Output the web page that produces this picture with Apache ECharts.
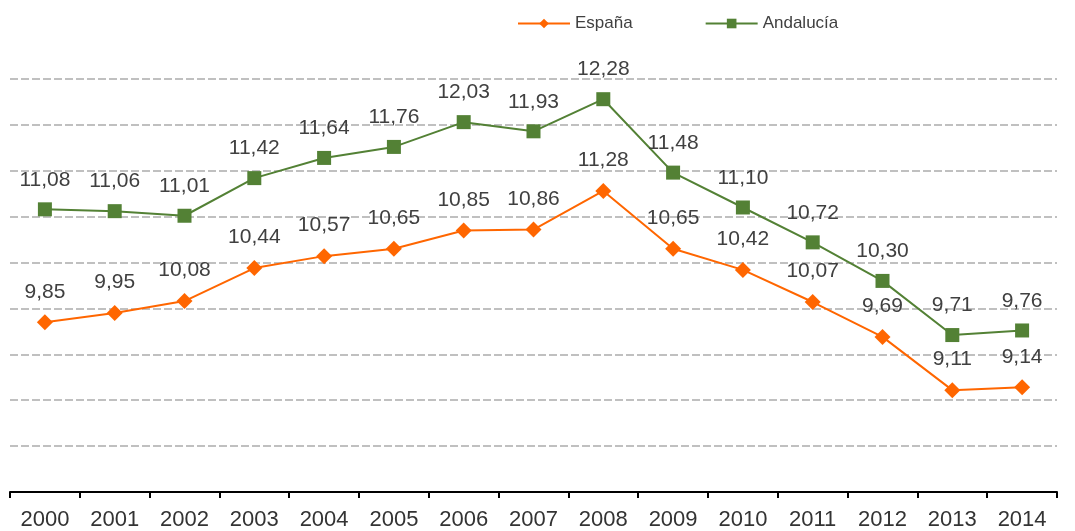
<!DOCTYPE html>
<html>
<head>
<meta charset="utf-8">
<script src="https://cdn.jsdelivr.net/npm/echarts@6/dist/echarts.min.js"></script>
<style>
  html, body { margin: 0; padding: 0; background: #fff; }
  #chart { width: 1075px; height: 531px; }
</style>
</head>
<body>
<div id="chart"></div>
<script>
const years = ['2000', '2001', '2002', '2003', '2004', '2005', '2006', '2007',
  '2008', '2009', '2010', '2011', '2012', '2013', '2014']
const espana = [9.85, 9.95, 10.08, 10.44, 10.57, 10.65, 10.85, 10.86,
  11.28, 10.65, 10.42, 10.07, 9.69, 9.11, 9.14]
const andalucia = [11.08, 11.06, 11.01, 11.42, 11.64, 11.76, 12.03, 11.93,
  12.28, 11.48, 11.10, 10.72, 10.30, 9.71, 9.76]

const fontFamily = '"Liberation Sans", Arial, sans-serif'
const fmt = p => p.value.toFixed(2).replace('.', ',')

const chart = echarts.init(document.getElementById('chart'))

const option = {
  animation: false,
  textStyle: { fontFamily },
  legend: {
    left: 512,
    top: 10,
    itemWidth: 52,
    itemHeight: 12,
    itemGap: 72,
    textStyle: { fontSize: 17, color: '#404040', fontFamily },
    data: ['España', 'Andalucía']
  },
  grid: {
    left: 10,
    right: 18,
    top: 79,
    bottom: 38
  },
  xAxis: {
    type: 'category',
    data: years,
    boundaryGap: true,
    axisLine: { lineStyle: { color: '#000', width: 2 } },
    axisTick: { show: true, length: 6, lineStyle: { color: '#000', width: 2 } },
    axisLabel: { fontSize: 22, color: '#333', margin: 17, fontFamily }
  },
  yAxis: {
    type: 'value',
    min: 8,
    max: 12.5,
    interval: 0.5,
    axisLabel: { show: false },
    axisLine: { show: false },
    axisTick: { show: false },
    splitLine: { lineStyle: { color: '#c0c0c0', width: 2, type: [8, 3] } }
  },
  series: [
    {
      name: 'España',
      type: 'line',
      data: espana,
      symbol: 'diamond',
      symbolSize: 16,
      lineStyle: { color: '#ff6600', width: 2 },
      itemStyle: { color: '#ff6600' },
      label: {
        show: true,
        position: 'top',
        distance: 12,
        fontSize: 21,
        color: '#404040',
        fontFamily,
        formatter: fmt
      }
    },
    {
      name: 'Andalucía',
      type: 'line',
      data: andalucia,
      symbol: 'rect',
      symbolSize: 14,
      lineStyle: { color: '#538135', width: 2 },
      itemStyle: { color: '#538135' },
      label: {
        show: true,
        position: 'top',
        distance: 12,
        fontSize: 21,
        color: '#404040',
        fontFamily,
        formatter: fmt
      }
    }
  ]
}

chart.setOption(option)
window.addEventListener('resize', () => chart.resize())
</script>
</body>
</html>
